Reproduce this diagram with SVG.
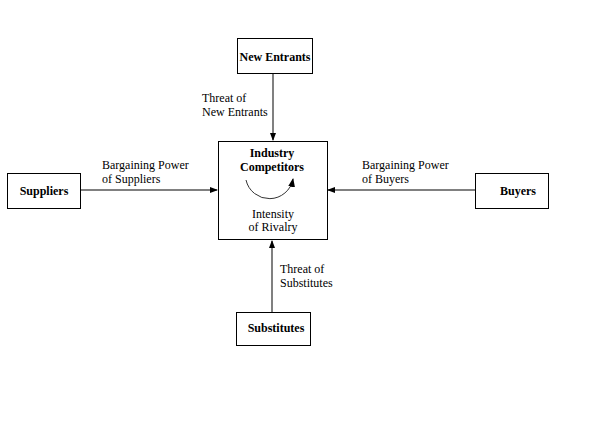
<svg xmlns="http://www.w3.org/2000/svg" width="597" height="430" viewBox="0 0 597 430">
<defs>
<marker id="ah" markerWidth="8" markerHeight="8" refX="7" refY="4" orient="auto" markerUnits="userSpaceOnUse">
<path d="M0,1 L8,4 L0,7 Z" fill="#000"/>
</marker>
<marker id="ah2" markerWidth="10" markerHeight="10" refX="8" refY="5" orient="auto" markerUnits="userSpaceOnUse">
<path d="M0,1.5 L9,5 L0,8.5 Z" fill="#000"/>
</marker>
<style>
.box{fill:#fff;stroke:#000;stroke-width:1}
.conn{stroke:#808080;stroke-width:2;fill:none}
.t{font-family:"Liberation Serif","Times New Roman",serif;font-size:12px;fill:#000}
.b{font-family:"Liberation Serif","Times New Roman",serif;font-size:12px;font-weight:bold;fill:#000}
</style>
</defs>
<rect width="597" height="430" fill="#fff"/>
<g id="connectors">
<line class="conn" x1="273" y1="73" x2="273" y2="140" marker-end="url(#ah)"/>
<line class="conn" x1="272" y1="312" x2="272" y2="241" marker-end="url(#ah)"/>
<line class="conn" x1="81" y1="190" x2="217" y2="190" marker-end="url(#ah)"/>
<line class="conn" x1="475" y1="190" x2="328" y2="190" marker-end="url(#ah)"/>
<text class="t" x="202" y="102">Threat of</text>
<text class="t" x="202" y="116">New Entrants</text>
<text class="t" x="102" y="169">Bargaining Power</text>
<text class="t" x="102" y="183">of Suppliers</text>
<text class="t" x="362" y="169">Bargaining Power</text>
<text class="t" x="362" y="183">of Buyers</text>
<text class="t" x="280" y="273">Threat of</text>
<text class="t" x="280" y="287">Substitutes</text>
</g>
<g id="new-entrants">
<rect class="box" x="237.5" y="38.5" width="75" height="35"/>
<text class="b" x="275" y="61" text-anchor="middle">New Entrants</text>
</g>
<g id="industry-competitors">
<rect class="box" x="218.5" y="141.5" width="109" height="98"/>
<text class="b" x="272" y="157" text-anchor="middle">Industry</text>
<text class="b" x="272" y="171" text-anchor="middle">Competitors</text>
<path d="M246,180 A24,24 0 0 0 293,179" fill="none" stroke="#333" stroke-width="1" marker-end="url(#ah2)"/>
<text class="t" x="273" y="218" text-anchor="middle">Intensity</text>
<text class="t" x="273" y="231" text-anchor="middle">of Rivalry</text>
</g>
<g id="suppliers">
<rect class="box" x="7.5" y="173.5" width="73" height="35"/>
<text class="b" x="44" y="195" text-anchor="middle">Suppliers</text>
</g>
<g id="buyers">
<rect class="box" x="475.5" y="173.5" width="73" height="35"/>
<text class="b" x="518" y="195" text-anchor="middle">Buyers</text>
</g>
<g id="substitutes">
<rect class="box" x="236.5" y="312.5" width="74" height="33"/>
<text class="b" x="276" y="332" text-anchor="middle">Substitutes</text>
</g>
</svg>
